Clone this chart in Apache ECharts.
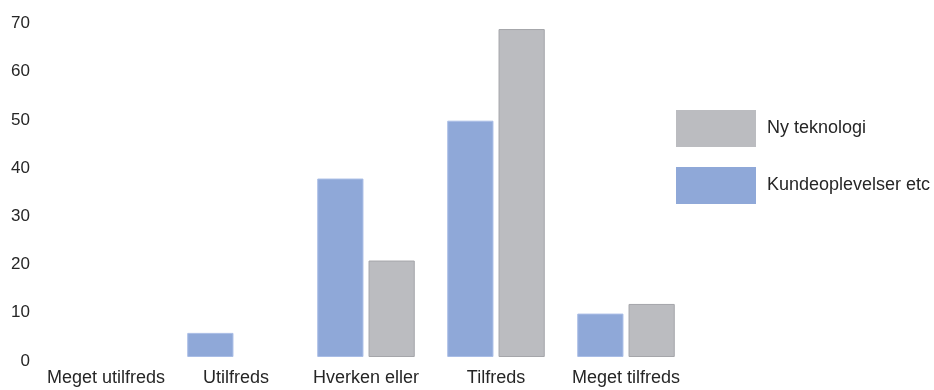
<!DOCTYPE html>
<html>
<head>
<meta charset="utf-8">
<script src="https://cdn.jsdelivr.net/npm/echarts@6/dist/echarts.min.js"></script>
<style>
html, body { margin: 0; padding: 0; background: #fff; }
#chart { width: 934px; height: 390px; }
</style>
</head>
<body>
<div id="chart"></div>
<script>
var categories = ['Meget utilfreds', 'Utilfreds', 'Hverken eller', 'Tilfreds', 'Meget tilfreds'];
var kundeoplevelser = [0, 5, 37, 49, 9];
var nyTeknologi = [0, 0, 20, 68, 11];
var yTicks = [0, 10, 20, 30, 40, 50, 60, 70];

// zero-height bars should draw nothing (no border line)
function barData(arr) {
	return arr.map(function(v) {
		return v === 0 ? { value: v, itemStyle: { borderWidth: 0, opacity: 0 } } : v;
	});
}

var chart = echarts.init(document.getElementById('chart'));
var font = 'Liberation Sans, Arial, sans-serif';
var option = {
	animation: false,
	textStyle: { fontFamily: font },
	legend: {
		orient: 'vertical',
		left: 676,
		top: 110,
		padding: 0,
		itemWidth: 80,
		itemHeight: 37,
		itemGap: 20,
		icon: 'rect',
		itemStyle: { borderWidth: 0 },
		data: ['Ny teknologi', 'Kundeoplevelser etc'],
		textStyle: { fontSize: 18, color: '#262626', fontFamily: font, padding: [2, 0, 0, 6] }
	},
	grid: { left: 41, right: 243, top: 19.4, bottom: 33 },
	xAxis: {
		type: 'category',
		data: categories,
		axisLine: { show: false },
		axisTick: { show: false },
		axisLabel: { interval: 0, fontSize: 18, color: '#262626', margin: 12, fontFamily: font }
	},
	yAxis: {
		type: 'value',
		min: yTicks[0],
		max: yTicks[yTicks.length - 1],
		interval: 10,
		splitLine: { show: false },
		axisLine: { show: false },
		axisTick: { show: false },
		axisLabel: {
			margin: 11,
			formatter: '{t|{value}}',
			rich: { t: { fontSize: 17, color: '#262626', fontFamily: font, padding: [8, 0, 0, 0] } }
		}
	},
	series: [{
		name: 'Kundeoplevelser etc',
		type: 'bar',
		data: barData(kundeoplevelser),
		barCategoryGap: '25%',
		barGap: '11%',
		itemStyle: { color: '#8FA8D8', borderColor: '#A9BDE6', borderWidth: 1 }
	}, {
		name: 'Ny teknologi',
		type: 'bar',
		data: barData(nyTeknologi),
		itemStyle: { color: '#BBBCC0', borderColor: '#A5A6AA', borderWidth: 1 }
	}]
};
chart.setOption(option);
window.addEventListener('resize', function() {
	chart.resize();
});
</script>
</body>
</html>
